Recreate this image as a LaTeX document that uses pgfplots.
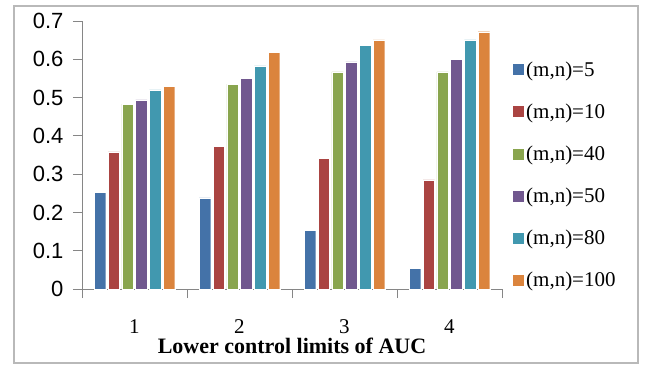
\documentclass[border=0pt]{standalone}
\usepackage{pgfplots}
\pgfplotsset{compat=1.18}
\usepackage{fontspec}
\setmainfont{Liberation Serif}
\newfontfamily\tickfont{Liberation Sans}
\definecolor{c1}{RGB}{68,114,168}
\definecolor{c2}{RGB}{170,68,66}
\definecolor{c3}{RGB}{137,165,78}
\definecolor{c4}{RGB}{113,88,143}
\definecolor{c5}{RGB}{65,152,175}
\definecolor{c6}{RGB}{219,132,61}
\definecolor{axgray}{RGB}{134,134,134}
\begin{document}
\begin{tikzpicture}
\path (-82pt,-78pt) rectangle (564pt,289pt);
\draw[gray!55, line width=1.2pt] (-68pt,-74pt) rectangle (556pt,283pt);
\begin{axis}[
  at={(0pt,0pt)}, anchor=south west,
  scale only axis, width=420pt, height=268pt,
  xmin=0.5, xmax=4.5, ymin=0, ymax=0.7,
  axis x line*=bottom, axis y line*=left,
  axis line style={axgray, line width=0.8pt},
  ytick={0,0.1,0.2,0.3,0.4,0.5,0.6,0.7},
  xtick={0.5,1.5,2.5,3.5,4.5},
  xticklabels={},
  extra x ticks={1,2,3,4},
  extra x tick labels={1,2,3,4},
  extra x tick style={tick style={draw=none}, major tick length=0pt,
    xticklabel style={font=\fontsize{21}{21}\selectfont, yshift=-27pt}},
  tick align=outside,
  major tick length=9pt,
  tick style={axgray, line width=0.8pt},
  /pgf/number format/assume math mode=true,
  /pgf/number format/fixed,
  yticklabel style={font=\tickfont\fontsize{22}{22}\selectfont, xshift=-6pt},
  xlabel={\textbf{Lower control limits of AUC}},
  xlabel style={font=\fontsize{22}{22}\selectfont, yshift=11pt},
  ybar=2.3pt, bar width=11.5pt,
  every axis plot/.append style={draw=white, line width=0.4pt},
  legend style={at={(1.019,0.425)}, anchor=west, draw=none, fill=none,
    font=\fontsize{21}{21}\selectfont, row sep=22pt,
    nodes={inner xsep=2pt}},
  legend cell align=left,
  legend image code/.code={\fill[#1, draw=none] (0pt,-5.5pt) rectangle (11pt,5.5pt);},
]
\addplot[fill=c1] coordinates {(1,0.253) (2,0.238) (3,0.153) (4,0.054)};
\addplot[fill=c2] coordinates {(1,0.358) (2,0.373) (3,0.342) (4,0.285)};
\addplot[fill=c3] coordinates {(1,0.483) (2,0.535) (3,0.567) (4,0.567)};
\addplot[fill=c4] coordinates {(1,0.494) (2,0.551) (3,0.593) (4,0.599)};
\addplot[fill=c5] coordinates {(1,0.520) (2,0.583) (3,0.636) (4,0.651)};
\addplot[fill=c6] coordinates {(1,0.530) (2,0.619) (3,0.651) (4,0.672)};
\legend{(m,n)=5,(m,n)=10,(m,n)=40,(m,n)=50,(m,n)=80,(m,n)=100}
\end{axis}
\end{tikzpicture}
\end{document}
